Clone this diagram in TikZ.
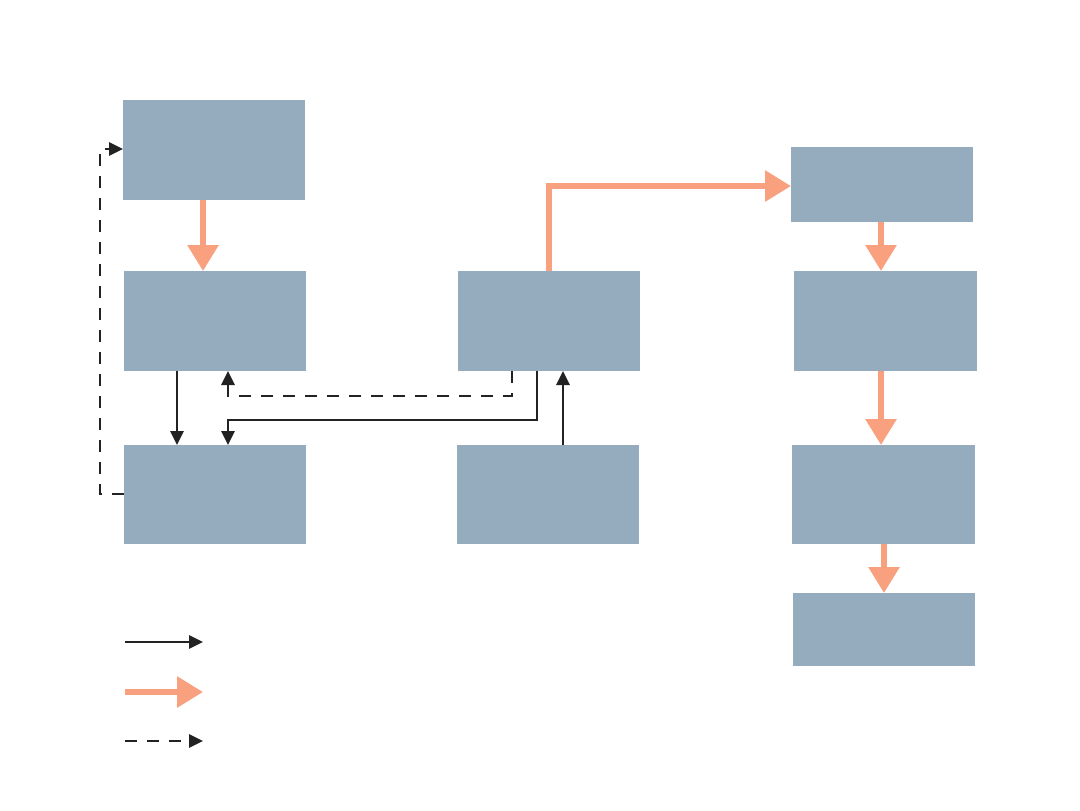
\documentclass[tikz,border=0pt]{standalone}
\usetikzlibrary{arrows.meta}
\definecolor{boxfill}{HTML}{95ABBE}
\definecolor{flow}{HTML}{F9A07E}
\definecolor{ink}{HTML}{222222}
\begin{document}
\begin{tikzpicture}[x=0.5pt,y=-0.5pt,
  box/.style={fill=boxfill,draw=none,inner sep=0pt,outer sep=0pt},
  main/.style={draw=flow,line width=3pt,-{Triangle[length=13pt,width=15pt]}},
  ctrl/.style={draw=ink,line width=1.4pt,-{Triangle[length=7pt,width=6.5pt]}},
  info/.style={ctrl,dash pattern=on 6pt off 5pt}]
\useasboundingbox (0,0) rectangle (1080,810);
\node[box,minimum width=91pt,minimum height=50pt] (A) at (214,150) {};
\node[box,minimum width=91pt,minimum height=50pt] (B) at (215,321) {};
\node[box,minimum width=91pt,minimum height=49.5pt] (C) at (215,494.5) {};
\node[box,minimum width=91pt,minimum height=50pt] (D) at (549,321) {};
\node[box,minimum width=91pt,minimum height=49.5pt] (E) at (548,494.5) {};
\node[box,minimum width=91pt,minimum height=37.5pt] (F) at (882,184.5) {};
\node[box,minimum width=91.5pt,minimum height=50pt] (G) at (885.5,321) {};
\node[box,minimum width=91.5pt,minimum height=49.5pt] (H) at (883.5,494.5) {};
\node[box,minimum width=91pt,minimum height=36.5pt] (I) at (884,629.5) {};
% orange flow
\draw[main] (D.north) |- (F.west |- 0,186);
\draw[main] (A.south -| 203,0) -- (B.north -| 203,0);
\draw[main] (F.south -| 881,0) -- (G.north -| 881,0);
\draw[main] (G.south -| 881,0) -- (H.north -| 881,0);
\draw[main] (H.south -| 884,0) -- (I.north -| 884,0);
% black solid
\draw[ctrl] (B.south -| 177,0) -- (C.north -| 177,0);
\coordinate (dc) at (537,420);
\draw[ctrl] (D.south -| dc) -- (dc) -| (C.north -| 228,0);
\draw[ctrl] (E.north -| 563,0) -- (D.south -| 563,0);
% dashed
\coordinate (db) at (512,396);
\draw[info] (D.south -| db) -- (db) -| (B.south -| 228,0);
\coordinate (ca) at (100,494);
\draw[info] (C.west |- ca) -- (ca) |- (A.west |- 0,149);
% legend
\coordinate (l1s) at (125,642); \coordinate (l1e) at (203,642);
\coordinate (l2s) at (125,692); \coordinate (l2e) at (203,692);
\coordinate (l3s) at (125,741); \coordinate (l3e) at (203,741);
\draw[ctrl] (l1s) -- (l1e);
\draw[main] (l2s) -- (l2e);
\draw[info] (l3s) -- (l3e);
\end{tikzpicture}
\end{document}
